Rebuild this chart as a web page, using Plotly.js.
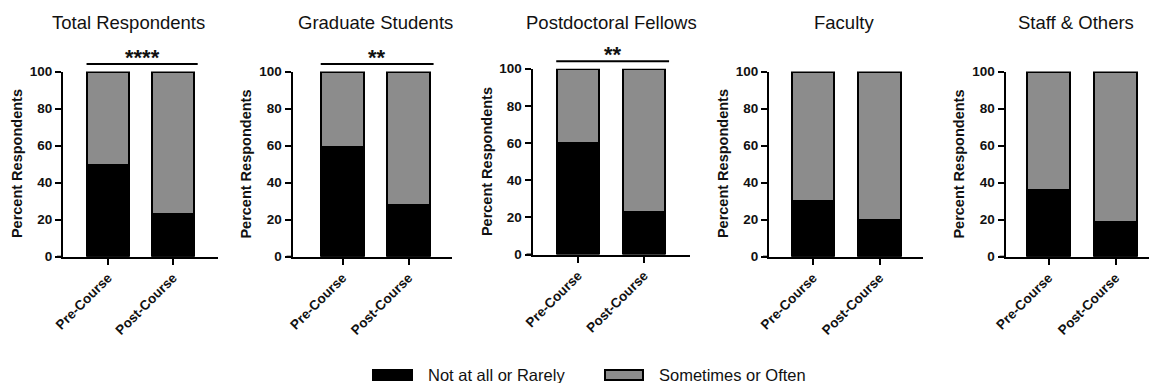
<!DOCTYPE html>
<html><head><meta charset="utf-8">
<script src="https://cdn.plot.ly/plotly-3.0.1.min.js"></script>
<style>html,body{margin:0;padding:0;background:#fff;}#chart{width:1149px;height:383px;}</style>
</head><body><div id="chart"></div>
<script>
// ---- data ----
const groups = ['Total Respondents', 'Graduate Students', 'Postdoctoral Fellows', 'Faculty', 'Staff & Others'];
const conditions = ['Pre-Course', 'Post-Course'];
const seriesNames = ['Not at all or Rarely', 'Sometimes or Often'];
const rarelyPre = [49.5, 59, 60, 30, 36];
const rarelyPost = [23, 28, 23, 20, 19];
const oftenPre = [50.5, 41, 40, 70, 64];
const oftenPost = [77, 72, 77, 80, 81];
const significance = ['****', '**', '**', '', ''];
const yTicks = [0, 20, 40, 60, 80, 100];
const yTitle = 'Percent Respondents';

// ---- layout geometry (pixels) ----
const W = 1149, H = 383;
const frames = [
  {L: 63,    c0: 108,   c1: 173,   R: 218,  y0: 256.7, y100: 71.5, tx: 128},
  {L: 292.5, c0: 342.5, c1: 408.5, R: 452,  y0: 256.7, y100: 71.5, tx: 375},
  {L: 532.5, c0: 578,   c1: 644,   R: 690,  y0: 254.5, y100: 68.7, tx: 611.5},
  {L: 769,   c0: 813,   c1: 879.5, R: 923,  y0: 256.7, y100: 71.5, tx: 844},
  {L: 1005.5,c0: 1048.5,c1: 1115.5,R: 1149, y0: 256.7, y100: 71.5, tx: 1075.5}
];
const FONT = '"Liberation Sans", Arial, sans-serif';
const GREY = '#8c8c8c';
const INK = '#111';

const traces = [];
const layout = {
  width: W, height: H,
  margin: {l: 0, r: 0, t: 0, b: 0},
  paper_bgcolor: '#fff', plot_bgcolor: 'rgba(0,0,0,0)',
  showlegend: false, barmode: 'stack',
  font: {family: FONT, color: INK},
  annotations: [], shapes: []
};
const px = v => v / W;
const py = v => 1 - v / H;

groups.forEach((g, i) => {
  const f = frames[i];
  const n = i + 1;
  const sfx = n > 1 ? String(n) : '';
  const xa = 'x' + sfx, ya = 'y' + sfx;
  const sp = f.c1 - f.c0;
  traces.push({
    type: 'bar', x: conditions, y: [rarelyPre[i], rarelyPost[i]],
    xaxis: xa, yaxis: ya, name: seriesNames[0], width: 0.645,
    marker: {color: '#000', line: {color: '#000', width: 2}}, hoverinfo: 'skip'
  });
  traces.push({
    type: 'bar', x: conditions, y: [oftenPre[i], oftenPost[i]],
    xaxis: xa, yaxis: ya, name: seriesNames[1], width: 0.645,
    marker: {color: GREY, line: {color: '#000', width: 2}}, hoverinfo: 'skip'
  });
  layout['xaxis' + sfx] = {
    domain: [px(f.L), px(f.R)], anchor: ya, type: 'category',
    range: [-(f.c0 - f.L) / sp, 1 + (f.R - f.c1) / sp],
    showline: true, linecolor: '#000', linewidth: 2,
    ticks: 'outside', ticklen: 6, tickwidth: 2, tickcolor: '#000',
    tickangle: -45, showgrid: false, zeroline: false, fixedrange: true,
    tickfont: {family: FONT, size: 13.5, weight: 'bold', color: INK}
  };
  layout['yaxis' + sfx] = {
    domain: [py(f.y0), py(f.y100)], anchor: xa, range: [0, 100],
    tickvals: yTicks, showline: true, linecolor: '#000', linewidth: 2,
    ticks: 'outside', ticklen: 6, tickwidth: 2, tickcolor: '#000',
    showgrid: false, zeroline: false, fixedrange: true,
    tickfont: {family: FONT, size: 13.5, weight: 'bold', color: INK}
  };
  // x-axis line extension to the left (to the y tick start)
  layout.shapes.push({
    type: 'line', xref: 'paper', yref: 'paper', x0: px(f.L - 6), x1: px(f.L), y0: py(f.y0), y1: py(f.y0),
    line: {color: '#000', width: 2}
  });
  // panel title
  layout.annotations.push({
    xref: 'paper', yref: 'paper', x: px(f.tx), y: py(23), xanchor: 'center', yanchor: 'middle',
    text: g, showarrow: false, font: {family: FONT, size: 18.5, color: INK}
  });
  // y title
  layout.annotations.push({
    xref: 'paper', yref: 'paper', x: px(f.L - 46), y: py((f.y0 + f.y100) / 2),
    xanchor: 'center', yanchor: 'middle', textangle: -90,
    text: yTitle, showarrow: false, font: {family: FONT, size: 14.5, weight: 'bold', color: INK}
  });
  // significance bracket
  if (significance[i]) {
    const by = f.y100 - 7.5;
    layout.shapes.push({
      type: 'line', xref: xa, yref: 'paper', x0: -0.33, x1: 1.38, y0: py(by), y1: py(by),
      line: {color: '#000', width: 2}
    });
    layout.annotations.push({
      xref: xa, yref: 'paper', x: 0.525, y: py(by + 8), xanchor: 'center', yanchor: 'bottom',
      text: significance[i], showarrow: false, font: {family: FONT, size: 22, weight: 'bold', color: INK}
    });
  }
});

// legend (manual)
const legendItems = [
  {x0: 373, x1: 412, tx: 429, fill: '#000'},
  {x0: 605, x1: 643, tx: 660, fill: GREY}
];
legendItems.forEach((it, k) => {
  layout.shapes.push({
    type: 'rect', xref: 'paper', yref: 'paper', x0: px(it.x0), x1: px(it.x1), y0: py(380), y1: py(370),
    fillcolor: it.fill, line: {color: '#000', width: 2}
  });
  layout.annotations.push({
    xref: 'paper', yref: 'paper', x: px(it.tx - 3), y: py(375), xanchor: 'left', yanchor: 'middle',
    text: seriesNames[k], showarrow: false, font: {family: FONT, size: 16.5, color: INK}
  });
});

Plotly.newPlot('chart', traces, layout, {displayModeBar: false, staticPlot: true});
</script>
</body></html>
